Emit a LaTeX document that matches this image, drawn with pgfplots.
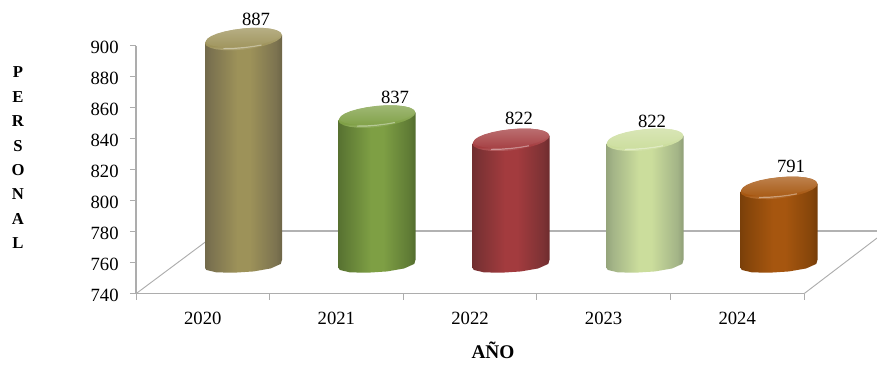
\documentclass[border=0pt]{standalone}
\usepackage{pgfplots}
\usepackage{pgfplotstable}
\usepackage{fontspec}
\setmainfont{Liberation Serif}
\pgfplotsset{compat=1.18}
\pgfplotstableread{
dx dy
38.5 4
37.2 6.6
33.3 8.7
27.2 10.25
19.25 11.1
9.96 11.2
0 10.5
-9.96 9.1
-19.25 7.1
-27.2 4.6
-33.3 1.8
-37.2 -1.14
-38.5 -4
-37.2 -6.6
-33.3 -8.7
-27.2 -10.25
-19.25 -11.1
-9.96 -11.2
0 -10.5
9.96 -9.1
19.25 -7.1
27.2 -4.6
33.3 -1.8
37.2 1.14
}\capshape
% t=1: follows the top of the bar, t=0: follows the foot
\pgfplotstableread{
dx t dy
-38.5 1 -4
38.5 1 4
38.5 0 4
37.2 0 0
27.2 0 -4.5
10 0 -7.5
-10 0 -8.8
-27.2 0 -8.4
-37.2 0 -6
-38.5 0 -4
}\bodyshape
\pgfplotstableread{
dx dy
-20 -9.6
-10 -9.4
0 -8.6
10 -7.4
18 -6.0
}\glintshape
\newcommand{\defbar}[3]{% name, edge, middle
  \definecolor{#1e}{HTML}{#2}\definecolor{#1m}{HTML}{#3}%
  \colorlet{#1l}{#1m!74!white}%
  \pgfdeclarehorizontalshading{#1body}{100bp}{color(0bp)=(#1e!92!black); color(25bp)=(#1e!92!black); color(29bp)=(#1e); color(46bp)=(#1m); color(54bp)=(#1m); color(71bp)=(#1e); color(75bp)=(#1e!88!black); color(100bp)=(#1e!88!black)}%
  \pgfdeclareverticalshading{#1cap}{100bp}{color(0bp)=(#1m!80!white); color(25bp)=(#1m!80!white); color(34bp)=(#1m); color(75bp)=(#1l); color(100bp)=(#1l)}%
  \pgfdeclareverticalshading{#1top}{100bp}{color(0bp)=(#1m!88!#1l); color(25bp)=(#1m!88!#1l); color(75bp)=(#1l); color(100bp)=(#1l)}%
}
\defbar{a}{7C7350}{9D9259}
\defbar{b}{5F7B35}{7E9F44}
\defbar{c}{7C3234}{A33B3E}
\defbar{d}{A3B487}{CBDD9C}
\defbar{e}{85450A}{A6560F}
\newcommand{\cyl}[3]{% centre x (px), value, colour name
  \addplot[draw=none, shade, shading=#3body, forget plot] table[
    x expr=\thisrow{dx}+#1,
    y expr=\thisrow{t}*(#2+17.3)+(1-\thisrow{t})*759.2+\thisrow{dy}/1.55] \bodyshape -- cycle;
  \addplot[draw=none, shade, shading=#3cap, forget plot] table[
    x expr=\thisrow{dx}+#1,
    y expr=#2+17.3+\thisrow{dy}/1.55] \capshape -- cycle;
  \addplot[draw=none, shade, shading=#3top, forget plot] table[
    x expr=0.97*\thisrow{dx}+#1,
    y expr=#2+17.3+(0.88*\thisrow{dy}+1.4)/1.55] \capshape -- cycle;
  \addplot[draw=white, draw opacity=.4, line width=.9pt, forget plot] table[
    x expr=\thisrow{dx}+#1,
    y expr=#2+17.3+\thisrow{dy}/1.55] \glintshape;
}
\begin{document}
\begin{tikzpicture}[x=0.75pt,y=0.75pt]
\useasboundingbox (-136,-70.3) rectangle (741,293.7);
\begin{axis}[
  at={(0,0)}, anchor=south west,
  scale only axis, width=501pt, height=186pt,
  xmin=136, xmax=804, ymin=740, ymax=900,
  clip=false,
  axis x line*=bottom, axis y line*=left,
  axis line style={color=black!32, line width=.8pt, -},
  every tick/.style={color=black!32, line width=.7pt},
  tick align=outside,
  major tick length=4.5pt,
  xtick={136,269.6,403.2,536.8,670.4,804},
  x tick label as interval,
  xticklabels={2020,2021,2022,2023,2024},
  ytick={740,760,...,900},
  tick label style={font=\fontsize{14}{16}\selectfont},
  x tick label style={yshift=-6pt},
  y tick label style={xshift=-5pt, yshift=-1.3pt},
  /pgf/number format/assume math mode=true,
  /pgf/number format/1000 sep={},
  ]
  % floor
  \addplot[color=black!30, line width=.95pt, forget plot] coordinates {(220,780.4)(877,780.4)};
  \addplot[color=black!32, line width=.7pt, forget plot] coordinates {(136,740)(220,780.4)};
  \addplot[color=black!32, line width=.7pt, forget plot] coordinates {(804,740)(877,775.9)};
  \cyl{243.5}{887}{a}
  \cyl{377}{837}{b}
  \cyl{511}{822}{c}
  \cyl{645}{822}{d}
  \cyl{779}{791}{e}
  % value labels
  \addplot[draw=none, mark=none, forget plot, nodes near coords, point meta=explicit symbolic,
    every node near coord/.style={anchor=center, inner sep=0pt, font=\fontsize{14}{16}\selectfont}]
    table[meta=lab] {
    x y lab
    256 917.2 887
    395 866.9 837
    519 853.4 822
    652 851.4 822
    791 822.4 791
    };
  \node[font=\fontsize{14.5}{16}\bfseries, inner sep=0pt] at (axis cs:493,703.5) {AÑO};
  \node[font=\fontsize{12.5}{18.3}\bfseries, align=center, inner sep=0pt] at (axis cs:18,827.6)
    {P\\E\\R\\S\\O\\N\\A\\L};
\end{axis}
\end{tikzpicture}
\end{document}
